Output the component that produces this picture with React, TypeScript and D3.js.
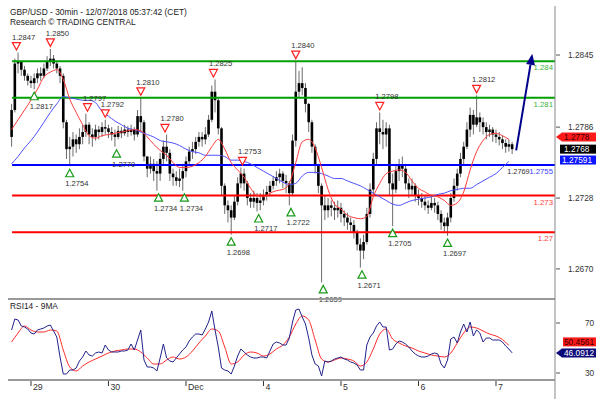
import React from 'react';
import * as d3 from 'd3';

// ---------- DATA ----------
const titleLine1 = 'GBP/USD - 30min - 12/07/2018 05:37:42 (CET)';
const titleLine2 = 'Research \u00A9 TRADING CENTRAL';
const rsiTitle = 'RSI14 - 9MA';

// x axis (30-min bar index)
const dayLabels = ['29', '30', 'Dec', '4', '5', '6', '7'];
const dayStartBars = [12, 60, 108, 156, 204, 252, 300];

// price axis ticks
const priceTicks = [1.2845, 1.2786, 1.2728, 1.267];
const rsiTicks = [70, 30];

// hourly candles (bar index = 2*k)
const firstOpen = 1.2778;
const closes = [
  1.2800, 1.2838, 1.2840, 1.2833, 1.2828, 1.2824, 1.2822, 1.2826, 1.2830, 1.2828, 1.2834, 1.2840, 1.2842, 1.2838, 1.2834, 1.2828,
  1.2790, 1.2768, 1.2770, 1.2776, 1.2772, 1.2778, 1.2782, 1.2788, 1.2780, 1.2778, 1.2784, 1.2782, 1.2786, 1.2785, 1.2782, 1.2780,
  1.2778, 1.2783, 1.2781, 1.2784, 1.2782, 1.2784, 1.2780, 1.2795, 1.2790, 1.2762, 1.2752, 1.2756, 1.2750, 1.2748, 1.2760, 1.2770,
  1.2765, 1.2748, 1.2745, 1.2742, 1.2744, 1.2750, 1.2758, 1.2766, 1.2768, 1.2774, 1.2778, 1.2776, 1.2780, 1.2792, 1.2815, 1.2808,
  1.2785, 1.2738, 1.2722, 1.2718, 1.2712, 1.2725, 1.2740, 1.2748, 1.2740, 1.2728, 1.2725, 1.2728, 1.2724, 1.2726, 1.2730, 1.2733,
  1.2738, 1.2742, 1.2745, 1.2748, 1.2742, 1.2740, 1.2732, 1.2775, 1.2815, 1.2822, 1.2818, 1.2805, 1.2790, 1.2770, 1.2755, 1.2738,
  1.2722, 1.2718, 1.2722, 1.2720, 1.2718, 1.2720, 1.2715, 1.2712, 1.2708, 1.2706, 1.2700, 1.2690, 1.2685, 1.2692, 1.2715, 1.2735,
  1.2760, 1.2785, 1.2782, 1.2780, 1.2785, 1.2740, 1.2735, 1.2750, 1.2755, 1.2752, 1.2740, 1.2735, 1.2738, 1.2730, 1.2728, 1.2725,
  1.2722, 1.2720, 1.2724, 1.2722, 1.2715, 1.2708, 1.2705, 1.2712, 1.2728, 1.2738, 1.2748, 1.2760, 1.2770, 1.2784, 1.2796, 1.2788,
  1.2794, 1.2790, 1.2786, 1.2782, 1.2784, 1.2780, 1.2778, 1.2776, 1.2773, 1.2770, 1.2772, 1.2768,
];
const highs = [
  1.2805, 1.2842, 1.2847, 1.2840, 1.2836, 1.2830, 1.2828, 1.2830, 1.2834, 1.2835, 1.2838, 1.2844, 1.2850, 1.2845, 1.2840, 1.2836,
  1.2830, 1.2792, 1.2778, 1.2782, 1.2780, 1.2785, 1.2788, 1.2797, 1.2790, 1.2785, 1.2788, 1.2787, 1.2790, 1.2792, 1.2788, 1.2786,
  1.2784, 1.2787, 1.2786, 1.2788, 1.2787, 1.2788, 1.2786, 1.2800, 1.2810, 1.2792, 1.2762, 1.2762, 1.2760, 1.2758, 1.2765, 1.2775,
  1.2780, 1.2768, 1.2752, 1.2750, 1.2752, 1.2756, 1.2762, 1.2770, 1.2774, 1.2778, 1.2782, 1.2782, 1.2786, 1.2796, 1.2820, 1.2825,
  1.2810, 1.2786, 1.2740, 1.2726, 1.2722, 1.2730, 1.2745, 1.2753, 1.2752, 1.2742, 1.2732, 1.2734, 1.2732, 1.2732, 1.2735, 1.2738,
  1.2742, 1.2746, 1.2750, 1.2752, 1.2750, 1.2747, 1.2742, 1.2780, 1.2840, 1.2832, 1.2835, 1.2822, 1.2806, 1.2792, 1.2772, 1.2756,
  1.2740, 1.2730, 1.2728, 1.2726, 1.2725, 1.2726, 1.2724, 1.2718, 1.2716, 1.2712, 1.2710, 1.2702, 1.2695, 1.2698, 1.2720, 1.2740,
  1.2765, 1.2790, 1.2798, 1.2792, 1.2790, 1.2788, 1.2748, 1.2756, 1.2760, 1.2762, 1.2756, 1.2744, 1.2744, 1.2740, 1.2735, 1.2732,
  1.2730, 1.2726, 1.2730, 1.2728, 1.2725, 1.2718, 1.2712, 1.2716, 1.2732, 1.2744, 1.2752, 1.2765, 1.2774, 1.2790, 1.2802, 1.2800,
  1.2812, 1.2798, 1.2794, 1.2790, 1.2788, 1.2786, 1.2784, 1.2782, 1.2779, 1.2776, 1.2776, 1.2774,
];
const lows = [
  1.2770, 1.2798, 1.2830, 1.2828, 1.2824, 1.2820, 1.2818, 1.2817, 1.2822, 1.2824, 1.2826, 1.2832, 1.2836, 1.2834, 1.2830, 1.2822,
  1.2785, 1.2760, 1.2754, 1.2762, 1.2765, 1.2768, 1.2772, 1.2778, 1.2772, 1.2770, 1.2775, 1.2776, 1.2778, 1.2780, 1.2777, 1.2775,
  1.2770, 1.2776, 1.2777, 1.2779, 1.2778, 1.2779, 1.2775, 1.2778, 1.2782, 1.2758, 1.2745, 1.2748, 1.2742, 1.2734, 1.2742, 1.2755,
  1.2758, 1.2742, 1.2738, 1.2738, 1.2737, 1.2734, 1.2745, 1.2755, 1.2760, 1.2764, 1.2770, 1.2770, 1.2772, 1.2778, 1.2790, 1.2798,
  1.2780, 1.2730, 1.2715, 1.2708, 1.2698, 1.2710, 1.2722, 1.2736, 1.2734, 1.2722, 1.2720, 1.2720, 1.2717, 1.2718, 1.2722, 1.2726,
  1.2730, 1.2735, 1.2738, 1.2740, 1.2736, 1.2732, 1.2722, 1.2730, 1.2770, 1.2810, 1.2812, 1.2798, 1.2782, 1.2765, 1.2748, 1.2732,
  1.2659, 1.2710, 1.2712, 1.2713, 1.2710, 1.2712, 1.2708, 1.2705, 1.2702, 1.2700, 1.2695, 1.2685, 1.2671, 1.2678, 1.2690, 1.2712,
  1.2730, 1.2755, 1.2772, 1.2768, 1.2770, 1.2730, 1.2705, 1.2732, 1.2742, 1.2745, 1.2735, 1.2728, 1.2730, 1.2725, 1.2722, 1.2720,
  1.2718, 1.2715, 1.2718, 1.2716, 1.2710, 1.2702, 1.2700, 1.2697, 1.2708, 1.2725, 1.2734, 1.2745, 1.2755, 1.2768, 1.2778, 1.2780,
  1.2786, 1.2782, 1.2780, 1.2776, 1.2778, 1.2774, 1.2773, 1.2771, 1.2768, 1.2765, 1.2766, 1.2764,
];

// moving averages, every 2 hours (bar index = 4*j)
const redMA = [
  1.2784, 1.2792, 1.2800, 1.2808, 1.2817, 1.2827, 1.2831, 1.2833, 1.2825, 1.2809,
  1.2798, 1.2788, 1.2779, 1.2777, 1.2779, 1.2780, 1.2781, 1.2782, 1.2783, 1.2784,
  1.2783, 1.2778, 1.2772, 1.2767, 1.2763, 1.2757, 1.2753, 1.2753, 1.2754, 1.2757,
  1.2762, 1.2770, 1.2776, 1.2768, 1.2757, 1.2751, 1.2745, 1.2736, 1.2730, 1.2729,
  1.2732, 1.2734, 1.2735, 1.2740, 1.2757, 1.2774, 1.2776, 1.2769, 1.2753, 1.2735,
  1.2723, 1.2719, 1.2714, 1.2712, 1.2711, 1.2713, 1.2729, 1.2740, 1.2748, 1.2750,
  1.2751, 1.2749, 1.2742, 1.2736, 1.2733, 1.2730, 1.2729, 1.2726, 1.2722, 1.2724,
  1.2733, 1.2751, 1.2766, 1.2775, 1.2780, 1.2781, 1.2779, 1.2776,
];
const blueMA = [
  1.2756, 1.2762, 1.2769, 1.2775, 1.2782, 1.2790, 1.2798, 1.2805, 1.2811, 1.2810,
  1.2809, 1.2808, 1.2808, 1.2806, 1.2799, 1.2795, 1.2791, 1.2788, 1.2785, 1.2784,
  1.2782, 1.2780, 1.2778, 1.2775, 1.2774, 1.2773, 1.2771, 1.2768, 1.2766, 1.2765,
  1.2763, 1.2763, 1.2763, 1.2762, 1.2759, 1.2759, 1.2758, 1.2756, 1.2753, 1.2750,
  1.2747, 1.2744, 1.2741, 1.2739, 1.2740, 1.2746, 1.2749, 1.2749, 1.2748, 1.2746,
  1.2744, 1.2744, 1.2742, 1.2740, 1.2738, 1.2735, 1.2732, 1.2729, 1.2726, 1.2723,
  1.2722, 1.2724, 1.2726, 1.2727, 1.2728, 1.2729, 1.2731, 1.2732, 1.2734, 1.2735,
  1.2736, 1.2736, 1.2739, 1.2742, 1.2745, 1.2748, 1.2753, 1.2758,
];

// RSI hourly (bar index = 2*k) and its 9MA every 2 hours (bar index = 4*j)
const rsi14 = [
  64.4, 73.2, 72.4, 67.6, 66.8, 65.2, 62.0, 61.2, 64.4, 65.2, 66.0, 67.6, 68.4, 63.6, 58.8, 42.8,
  29.2, 29.2, 32.4, 32.4, 34.0, 39.6, 42.8, 47.6, 44.4, 43.6, 46.0, 46.8, 46.0, 52.4, 48.4, 46.8,
  46.8, 46.8, 47.6, 47.6, 48.4, 53.2, 48.4, 56.4, 64.4, 40.4, 34.8, 34.8, 34.0, 31.6, 42.0, 53.2,
  42.0, 39.6, 38.8, 42.0, 45.2, 48.4, 50.8, 55.6, 58.8, 61.2, 61.2, 60.4, 65.2, 70.8, 79.6, 64.4,
  50.8, 34.0, 32.4, 31.6, 29.2, 35.6, 43.6, 49.2, 46.8, 44.4, 42.8, 42.0, 42.0, 42.8, 42.8, 42.0,
  47.6, 53.2, 54.8, 54.0, 52.4, 52.4, 58.0, 70.8, 80.4, 81.2, 74.8, 69.2, 58.0, 44.4, 37.2, 35.6,
  27.6, 39.6, 38.8, 39.6, 41.2, 42.0, 42.8, 41.2, 40.4, 38.8, 38.0, 36.4, 32.4, 32.4, 52.4, 58.8,
  62.0, 67.6, 70.8, 66.8, 66.8, 48.4, 49.2, 53.2, 55.6, 54.8, 53.2, 50.8, 47.6, 45.2, 43.6, 42.8,
  42.8, 43.6, 45.2, 46.0, 45.2, 37.2, 34.0, 40.4, 57.2, 58.8, 54.0, 62.8, 69.2, 62.8, 70.8, 59.6,
  64.4, 62.0, 54.8, 58.0, 58.0, 56.4, 56.4, 56.4, 54.8, 51.6, 49.2, 46.1,
];
const rsiMA9 = [
  54.8, 62.0, 67.6, 64.4, 62.8, 62.8, 64.4, 63.6, 48.4, 34.8,
  31.6, 35.6, 38.8, 41.2, 43.6, 46.0, 47.6, 48.4, 49.2, 49.2,
  46.8, 42.0, 37.2, 37.2, 40.4, 42.8, 41.2, 42.8, 47.6, 54.0,
  59.6, 65.2, 63.6, 50.8, 37.2, 38.8, 44.4, 46.8, 46.0, 43.6,
  45.2, 49.2, 52.4, 58.8, 69.2, 75.6, 72.4, 56.4, 41.2, 38.8,
  40.4, 42.0, 41.2, 39.6, 35.6, 38.8, 49.2, 61.2, 65.2, 57.2,
  54.0, 51.6, 50.0, 47.6, 46.0, 44.4, 43.6, 42.8, 46.0, 54.0,
  62.0, 66.8, 66.0, 63.6, 61.2, 59.6, 56.8, 52.0,
];

// horizontal key levels
const levelValues = [1.284, 1.281, 1.2755, 1.273, 1.27];
const levelLabels = ['1.284', '1.281', '1.2755', '1.273', '1.27'];
const levelKinds = ['res', 'res', 'pivot', 'sup', 'sup'];

// swing markers
const highBars = [3, 24, 47, 58, 80, 95, 125, 143, 176, 228, 288];
const highPrices = [1.2847, 1.285, 1.2797, 1.2792, 1.281, 1.278, 1.2825, 1.2753, 1.284, 1.2798, 1.2812];
const lowBars = [14, 36, 65, 91, 107, 136, 153, 173, 193, 217, 236, 270];
const lowPrices = [1.2817, 1.2754, 1.277, 1.2734, 1.2734, 1.2698, 1.2717, 1.2722, 1.2659, 1.2671, 1.2705, 1.2697];
const extraLabelBar = 307;
const extraLabelText = '1.2769';

// forecast arrow
const arrowBars = [312.5, 322.5];
const arrowPrices = [1.2767, 1.2846];

// last values
const lastRedMA = 1.2778;
const lastClose = 1.2768;
const lastBlueMA = 1.27591;
const lastRsiMA = 50.4561;
const lastRsi = 46.0912;

// ---------- LAYOUT / STYLE ----------
const FONT = 'Liberation Sans, Arial, sans-serif';
const plotLeft = 8;
const plotRight = 555;
const mainTop = 6;
const mainBottom = 299;
const rsiTop = 300;
const rsiBottom = 380;
const levelColor: Record<string, string> = { res: '#00a000', pivot: '#0000ff', sup: '#ff0000' };
const levelTextColor: Record<string, string> = { res: '#3cb43c', pivot: '#3c3cff', sup: '#ff3c3c' };

export default function App() {
  const x = d3.scaleLinear().domain([-2.23, 336.55]).range([plotLeft, plotRight]);
  const y = d3.scaleLinear().domain([1.26454, 1.28851]).range([mainBottom, mainTop]);
  const yr = d3.scaleLinear().domain([24.4, 88.4]).range([rsiBottom, rsiTop]);

  const maLine = d3
    .line<number>()
    .x((_, j) => x(4 * j))
    .y((d) => y(d))
    .curve(d3.curveMonotoneX);
  const rsiLine = d3
    .line<number>()
    .x((_, k) => x(2 * k))
    .y((d) => yr(d));
  const rsiMaLine = d3
    .line<number>()
    .x((_, j) => x(4 * j))
    .y((d) => yr(d))
    .curve(d3.curveMonotoneX);

  // arrow geometry
  const ax0 = x(arrowBars[0]);
  const ay0 = y(arrowPrices[0]);
  const ax1 = x(arrowBars[1]);
  const ay1 = y(arrowPrices[1]);
  const len = Math.hypot(ax1 - ax0, ay1 - ay0);
  const ux = (ax1 - ax0) / len;
  const uy = (ay1 - ay0) / len;
  const hl = 11;
  const hw = 4.5;
  const bx = ax1 - ux * hl;
  const by = ay1 - uy * hl;
  const head = `${ax1},${ay1} ${bx - uy * hw},${by + ux * hw} ${bx + uy * hw},${by - ux * hw}`;

  const arrowBox = (cy: number) =>
    `${plotRight + 1},${cy} ${plotRight + 7},${cy - 4.5} 596,${cy - 4.5} 596,${cy + 4.5} ${plotRight + 7},${cy + 4.5}`;

  const yRedBox = y(lastRedMA);
  const yCloseBox = y(lastClose);
  const yBlueBox = y(lastBlueMA);
  const yRsiBox = yr(lastRsi);
  const yRsiMaBox = Math.min(yr(lastRsiMA), yRsiBox - 11);

  return (
    <svg
      width={600}
      height={399}
      style={{ position: 'absolute', left: 0, top: 0, background: '#fff' }}
      fontFamily={FONT}
    >
      <defs>
        <clipPath id="mainClip">
          <rect x={plotLeft} y={mainTop} width={plotRight - plotLeft} height={mainBottom - mainTop} />
        </clipPath>
        <clipPath id="rsiClip">
          <rect x={plotLeft} y={rsiTop} width={plotRight - plotLeft} height={rsiBottom - rsiTop} />
        </clipPath>
      </defs>
      <rect x={0} y={0} width={600} height={399} fill="#fff" />

      {/* titles */}
      <text x={10} y={15} fontSize={8.4} fill="#222">{titleLine1}</text>
      <text x={10} y={25} fontSize={8.4} fill="#222">{titleLine2}</text>

      <g clipPath="url(#mainClip)">
        {/* candles */}
        {closes.map((c, k) => {
          const o = k === 0 ? firstOpen : closes[k - 1];
          const cx = x(2 * k);
          const hi = Math.max(highs[k], o, c);
          const lo = Math.min(lows[k], o, c);
          const top = y(Math.max(o, c));
          const bot = y(Math.min(o, c));
          return (
            <g key={'c' + k}>
              <line x1={cx} x2={cx} y1={y(hi)} y2={y(lo)} stroke="#6a6a6a" strokeWidth={1} />
              <rect x={cx - 1.3} y={top} width={2.6} height={Math.max(1.5, bot - top)} fill="#000" />
            </g>
          );
        })}

        {/* levels */}
        {levelValues.map((v, i) => (
          <line
            key={'lv' + i}
            x1={x(0.3)}
            x2={plotRight}
            y1={y(v)}
            y2={y(v)}
            stroke={levelColor[levelKinds[i]]}
            strokeWidth={2}
          />
        ))}

        {/* moving averages */}
        <path d={maLine(blueMA) || ''} fill="none" stroke="#5050ff" strokeWidth={1} />
        <path d={maLine(redMA) || ''} fill="none" stroke="#ff3a3a" strokeWidth={1} />
      </g>

      {/* level labels */}
      {levelValues.map((v, i) => (
        <text
          key={'ll' + i}
          x={plotRight - 2}
          y={y(v) + 9}
          fontSize={7.8}
          textAnchor="end"
          fill={levelTextColor[levelKinds[i]]}
        >
          {levelLabels[i]}
        </text>
      ))}
      <text x={x(extraLabelBar)} y={y(levelValues[2]) + 9} fontSize={7.3} fill="#333">
        {extraLabelText}
      </text>

      {/* swing highs */}
      {highBars.map((b, i) => {
        const cx = x(b);
        const top = y(highPrices[i]) - 10;
        return (
          <g key={'h' + i}>
            <polygon
              points={`${cx - 4},${top} ${cx + 4},${top} ${cx},${top + 7.5}`}
              fill="#fff"
              stroke="#ff2020"
              strokeWidth={1.2}
            />
            <text x={cx - 4.5} y={top - 3} fontSize={7.6} fill="#333">
              {highPrices[i].toFixed(4)}
            </text>
          </g>
        );
      })}
      {/* swing lows */}
      {lowBars.map((b, i) => {
        const cx = x(b);
        const bot = y(lowPrices[i]) + 10.5;
        return (
          <g key={'l' + i}>
            <polygon
              points={`${cx - 4},${bot} ${cx + 4},${bot} ${cx},${bot - 7.5}`}
              fill="#fff"
              stroke="#1a9a1a"
              strokeWidth={1.2}
            />
            <text x={cx - 4.5} y={bot + 9.5} fontSize={7.6} fill="#333">
              {lowPrices[i].toFixed(4)}
            </text>
          </g>
        );
      })}

      {/* forecast arrow */}
      <line x1={ax0} y1={ay0} x2={bx} y2={by} stroke="#00008b" strokeWidth={2} />
      <polygon points={head} fill="#00008b" />

      {/* panel borders */}
      <line x1={plotLeft} x2={plotRight} y1={mainBottom} y2={mainBottom} stroke="#999" strokeWidth={2} />
      <line x1={plotLeft} x2={plotRight} y1={rsiBottom} y2={rsiBottom} stroke="#999" strokeWidth={2} />
      <line x1={plotRight} x2={plotRight} y1={mainTop} y2={399} stroke="#888" strokeWidth={1} />

      {/* price axis */}
      {priceTicks.map((t, i) => (
        <g key={'pt' + i}>
          <line x1={plotRight + 1} x2={plotRight + 5} y1={y(t)} y2={y(t)} stroke="#555" />
          <text x={568} y={y(t) + 3} fontSize={8.3} fill="#333">
            {t.toFixed(4)}
          </text>
        </g>
      ))}

      {/* value boxes on price axis */}
      <polygon points={arrowBox(yRedBox)} fill="#ff1a1a" />
      <text x={564} y={yRedBox + 3} fontSize={8.3} fill="#3a0000">{lastRedMA.toFixed(4)}</text>
      <rect x={560} y={yCloseBox - 4.5} width={36} height={9} fill="#000" />
      <text x={564} y={yCloseBox + 3} fontSize={8.3} fill="#fff">{lastClose.toFixed(4)}</text>
      <rect x={560} y={yBlueBox - 4.5} width={36} height={9} fill="#0a14ff" />
      <text x={562} y={yBlueBox + 3} fontSize={8.3} fill="#fff">{lastBlueMA.toFixed(5)}</text>

      {/* RSI panel */}
      <text x={10} y={309} fontSize={8.4} fill="#222">{rsiTitle}</text>
      <g clipPath="url(#rsiClip)">
        <path d={rsiMaLine(rsiMA9) || ''} fill="none" stroke="#ff2a2a" strokeWidth={1} />
        <path d={rsiLine(rsi14) || ''} fill="none" stroke="#22228c" strokeWidth={1} />
      </g>
      {rsiTicks.map((t, i) => (
        <g key={'rt' + i}>
          <line x1={plotRight + 1} x2={plotRight + 5} y1={yr(t)} y2={yr(t)} stroke="#555" />
          <text x={585} y={yr(t) + 3} fontSize={8.3} fill="#333">
            {t}
          </text>
        </g>
      ))}
      <rect x={563} y={yRsiMaBox - 4.5} width={33} height={9} fill="#ff1a1a" />
      <text x={564} y={yRsiMaBox + 3} fontSize={8.3} fill="#3a0000">{lastRsiMA.toFixed(4)}</text>
      <polygon points={arrowBox(yRsiBox)} fill="#0a0a78" />
      <text x={564} y={yRsiBox + 3} fontSize={8.3} fill="#fff">{lastRsi.toFixed(4)}</text>

      {/* x axis */}
      {dayStartBars.map((b, i) => (
        <g key={'d' + i}>
          <line x1={x(b)} x2={x(b)} y1={381} y2={386} stroke="#333" />
          <text x={x(b) + 2} y={390} fontSize={8.8} fill="#333">
            {dayLabels[i]}
          </text>
        </g>
      ))}
    </svg>
  );
}
